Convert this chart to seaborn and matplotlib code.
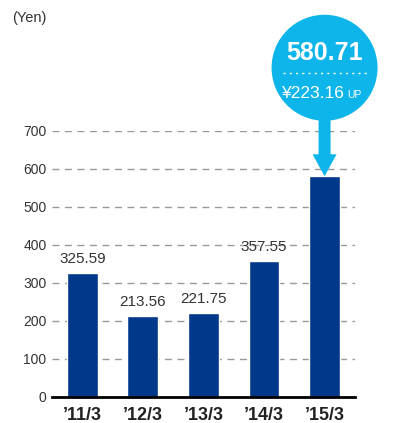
import matplotlib
matplotlib.use("Agg")
import matplotlib.pyplot as plt
import matplotlib.patches as mpatches
import seaborn as sns
import pandas as pd

# data
periods = ["\u201911/3", "\u201912/3", "\u201913/3", "\u201914/3", "\u201915/3"]
eps = [325.59, 213.56, 221.75, 357.55, 580.71]
increase = 223.16
yticks = [0, 100, 200, 300, 400, 500, 600, 700]

bar_color = "#00388a"
cyan = "#0db5ea"
text_color = "#333333"

sns.set_style("white")
plt.rcParams["font.family"] = ["Liberation Sans", "DejaVu Sans"]

df = pd.DataFrame({"period": periods, "eps": eps})

fig = plt.figure(figsize=(4.16, 4.23), dpi=100)
ax = fig.add_axes([0.125, 0.0615, 0.728, 0.629])

sns.barplot(data=df, x="period", y="eps", color=bar_color, width=0.51,
            saturation=1, ax=ax, zorder=3)

ax.set_xlim(-0.5, len(periods) - 0.5)
ax.set_ylim(0, 700)
ax.set_yticks(yticks)
ax.yaxis.grid(True, linestyle=(0, (5, 4)), color="#999999", linewidth=1, zorder=0)
ax.xaxis.grid(False)
for side in ["left", "right", "top"]:
    ax.spines[side].set_visible(False)
ax.spines["bottom"].set_color("black")
ax.spines["bottom"].set_linewidth(2)
ax.spines["bottom"].set_zorder(4)
ax.tick_params(axis="y", length=0, pad=4, labelsize=10, labelcolor=text_color)
ax.tick_params(axis="x", length=0, pad=7, labelsize=13, labelcolor="#222222")
for lab in ax.get_xticklabels():
    lab.set_fontweight("bold")
ax.set_xlabel("")
ax.set_ylabel("")

# value labels (last one goes in the callout)
for i, v in enumerate(eps[:-1]):
    ax.annotate(f"{v:.2f}", (i, v), xytext=(0, 5), textcoords="offset points",
                ha="center", va="bottom", fontsize=11, color=text_color)

fig.text(12 / 416, 1 - 18 / 423, "(Yen)", fontsize=10.5, color=text_color,
         va="center", ha="left")

# callout bubble anchored to the last bar
dpi = fig.dpi
tip = ax.transData.transform((len(eps) - 1, eps[-1])) / dpi
cx, cy = tip[0], tip[1] + 1.085
r = 0.53
fig.add_artist(mpatches.Circle((cx, cy), r, transform=fig.dpi_scale_trans,
                               facecolor=cyan, edgecolor="none", zorder=5))
fig.add_artist(mpatches.FancyArrow(cx, cy - r + 0.05, 0, -(cy - r + 0.05 - tip[1]),
                                   width=0.12, head_width=0.24, head_length=0.22,
                                   length_includes_head=True,
                                   transform=fig.dpi_scale_trans,
                                   facecolor=cyan, edgecolor="none", zorder=5))
fig.text(cx, cy + 0.15, f"{eps[-1]:.2f}", transform=fig.dpi_scale_trans,
         ha="center", va="center", fontsize=18, fontweight="bold",
         color="white", zorder=6)
fig.add_artist(plt.Line2D([cx - 0.42, cx + 0.42], [cy - 0.055, cy - 0.055],
                          transform=fig.dpi_scale_trans, color="white",
                          linestyle=(0, (1.5, 3)), linewidth=1, zorder=6))
fig.text(cx + 0.2, cy - 0.255, f"\u00a5{increase:.2f}", transform=fig.dpi_scale_trans,
         ha="right", va="center", fontsize=12.5, color="white", zorder=6)
fig.text(cx + 0.23, cy - 0.27, "UP", transform=fig.dpi_scale_trans,
         ha="left", va="center", fontsize=7.5, color="white", zorder=6)

fig.savefig("out.png", dpi=100)
